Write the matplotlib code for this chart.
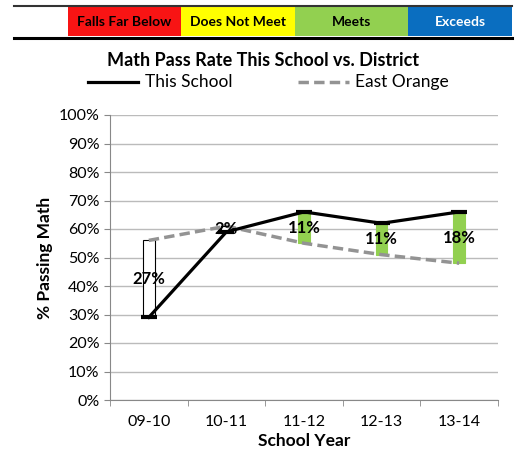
import matplotlib.pyplot as plt
import numpy as np
from matplotlib.patches import Rectangle
from matplotlib.lines import Line2D

plt.rcParams["font.family"] = ["Lato", "DejaVu Sans"]

years = ["09-10", "10-11", "11-12", "12-13", "13-14"]
this_school = [29, 59, 66, 62, 66]
east_orange = [56, 61, 55, 51, 48]
gap_labels = ["27%", "2%", "11%", "11%", "18%"]

band_labels = ["", "Falls Far Below", "Does Not Meet", "Meets", "Exceeds"]
band_colors = ["white", "#F81414", "#FFFF00", "#92D050", "#0A6EC0"]
band_text = ["black", "black", "black", "black", "white"]

W, H = 515, 453
fig = plt.figure(figsize=(W / 100, H / 100), dpi=100)

# banner at the top (pixel layout)
edges = [14, 68, 181, 295, 408, 512]
for i in range(5):
    x0, x1 = edges[i], edges[i + 1]
    fig.patches.append(Rectangle((x0 / W, 1 - 36 / H), (x1 - x0) / W, 29 / H,
                                 transform=fig.transFigure, facecolor=band_colors[i],
                                 edgecolor="none"))
    if band_labels[i]:
        fig.text((x0 + x1) / 2 / W, 1 - 21.5 / H, band_labels[i], ha="center", va="center",
                 fontsize=10, fontweight="bold", color=band_text[i])
fig.add_artist(Line2D([14 / W, 512 / W], [1 - 5.5 / H, 1 - 5.5 / H], color="#333333", lw=1.5))
fig.add_artist(Line2D([14 / W, 512 / W], [1 - 38 / H, 1 - 38 / H], color="black", lw=2.2))

fig.text(263 / W, 1 - 61 / H, "Math Pass Rate This School vs. District", ha="center",
         va="center", fontsize=13, fontweight="bold")

ax = fig.add_axes([110 / W, 53 / H, 388 / W, 285 / H])
x = np.arange(len(years))

school = np.array(this_school)
district = np.array(east_orange)
lo = np.minimum(school, district)
diff = np.abs(school - district)
colors = ["#92D050" if s > d else "white" for s, d in zip(school, district)]
edgec = ["#92D050" if s > d else "black" for s, d in zip(school, district)]
ax.bar(x, diff, bottom=lo, width=0.15, color=colors, edgecolor=edgec, linewidth=0.8, zorder=2)

ax.plot(x, district, color="#939393", lw=2.5, dashes=(3, 1.5), zorder=3)
ax.plot(x, school, color="black", lw=2.3, marker="_", ms=12, mew=3, zorder=4)

for xi, s, d, lab in zip(x, school, district, gap_labels):
    ax.text(xi, (s + d) / 2, lab, ha="center", va="center", fontsize=12,
            fontweight="bold", zorder=5)

ax.set_xlim(-0.5, 4.5)
ax.set_ylim(0, 100)
ax.set_yticks(range(0, 101, 10))
ax.set_yticklabels([f"{v}%" for v in range(0, 101, 10)], fontsize=11.5)
ax.set_xticks(x)
ax.set_xticklabels(years, fontsize=11.5)
ax.set_xticks(np.arange(-0.5, 5, 1), minor=True)
ax.tick_params(axis="x", which="major", length=0, pad=11)
ax.tick_params(axis="x", which="minor", length=4, color="#888888")
ax.tick_params(axis="y", length=4, color="#888888")
ax.grid(axis="y", color="#BBBBBB", lw=1)
ax.set_axisbelow(True)
for sp in ["top", "right"]:
    ax.spines[sp].set_visible(False)
for sp in ["left", "bottom"]:
    ax.spines[sp].set_color("#888888")

ax.set_ylabel("% Passing Math", fontsize=12.5, fontweight="bold", labelpad=4)
ax.set_xlabel("School Year", fontsize=12.5, fontweight="bold", labelpad=3)

# legend above plot
fig.add_artist(Line2D([88 / W, 138 / W], [1 - 82 / H] * 2, color="black", lw=2.3))
fig.text(145 / W, 1 - 82 / H, "This School", ha="left", va="center", fontsize=12.5)
fig.add_artist(Line2D([298 / W, 349 / W], [1 - 82 / H] * 2, color="#939393", lw=2.5,
                      dashes=(3, 1.5)))
fig.text(355 / W, 1 - 82 / H, "East Orange", ha="left", va="center", fontsize=12.5)

fig.savefig("out.png", dpi=100)
